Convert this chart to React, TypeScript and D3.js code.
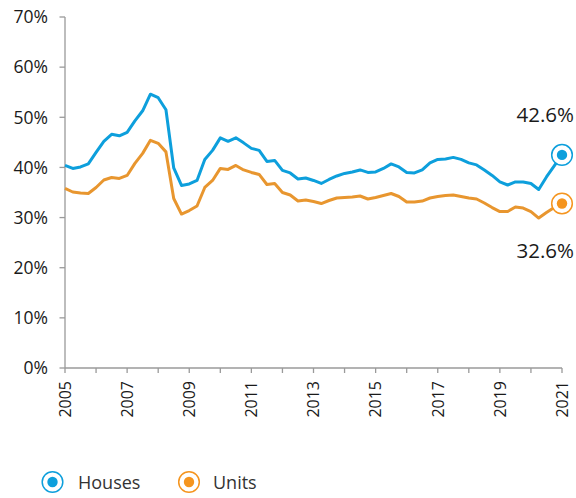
import React from "react";
import * as d3 from "d3";

const startYear = 2005;
const houses = [40.4, 39.8, 40.1, 40.7, 43.0, 45.2, 46.6, 46.3, 47.0, 49.3, 51.3, 54.6, 53.9, 51.5, 39.9, 36.4, 36.7, 37.4, 41.6, 43.4, 45.9, 45.2, 45.9, 44.9, 43.8, 43.4, 41.2, 41.4, 39.4, 38.9, 37.7, 37.9, 37.4, 36.8, 37.6, 38.3, 38.8, 39.1, 39.5, 39.0, 39.1, 39.8, 40.7, 40.1, 39.0, 38.9, 39.5, 40.9, 41.6, 41.7, 42.0, 41.6, 40.9, 40.5, 39.5, 38.4, 37.1, 36.5, 37.1, 37.1, 36.8, 35.6, 38.1, 40.3, 42.5];
const units = [35.8, 35.1, 34.9, 34.8, 36.0, 37.5, 38.0, 37.8, 38.4, 40.8, 42.8, 45.4, 44.8, 43.1, 33.8, 30.7, 31.4, 32.3, 36.0, 37.4, 39.8, 39.6, 40.4, 39.5, 39.0, 38.6, 36.6, 36.8, 35.0, 34.5, 33.3, 33.5, 33.2, 32.8, 33.4, 33.9, 34.0, 34.1, 34.3, 33.7, 34.0, 34.4, 34.8, 34.2, 33.1, 33.1, 33.3, 33.9, 34.2, 34.4, 34.5, 34.2, 33.9, 33.7, 32.9, 32.0, 31.2, 31.2, 32.1, 31.9, 31.2, 29.9, 31.0, 32.0, 32.8];
const yTicks = [0, 10, 20, 30, 40, 50, 60, 70];
const yearTicks = d3.range(2005, 2022);
const yearLabels = [2005, 2007, 2009, 2011, 2013, 2015, 2017, 2019, 2021];
const endLabels = { houses: "42.6%", units: "32.6%" };
const seriesNames = ["Houses", "Units"];

const BLUE = "#0d9fdc";
const ORANGE = "#e8962f";
const ORANGE_DOT = "#f5951f";
const AXIS = "#9a9a9a";
const FONT = "'Open Sans', 'Noto Sans', sans-serif";

export default function App() {
  const W = 576, H = 498;
  const x = d3.scaleLinear().domain([2005, 2021]).range([65, 562]);
  const y = d3.scaleLinear().domain([0, 70]).range([368, 17]);
  const t = (i: number) => startYear + i * 0.25;
  const line = d3.line<number>().x((_, i) => x(t(i))).y((d) => y(d));
  const lastH = houses[houses.length - 1];
  const lastU = units[units.length - 1];
  const lastX = x(t(houses.length - 1));

  const marker = (cx: number, cy: number, color: string, dot: string) => (
    <g>
      <circle cx={cx} cy={cy} r={10.3} fill="#fff" stroke={color} strokeWidth={1.5} />
      <circle cx={cx} cy={cy} r={5.2} fill={dot} />
    </g>
  );

  return (
    <svg width={W} height={H} style={{ position: "absolute", left: 0, top: 0, background: "#fff" }} fontFamily={FONT}>
      {/* y axis */}
      <line x1={65} x2={65} y1={y(70)} y2={y(0)} stroke={AXIS} strokeWidth={1.3} />
      {yTicks.map((v) => (
        <g key={v}>
          <line x1={59.5} x2={65} y1={y(v)} y2={y(v)} stroke={AXIS} strokeWidth={1.3} />
          <text x={48} y={y(v)} dy="0.36em" textAnchor="end" fontSize={17.5} fill="#1a1a1a">{v}%</text>
        </g>
      ))}
      {/* x axis */}
      <line x1={65} x2={562} y1={368} y2={368} stroke={AXIS} strokeWidth={1.3} />
      {yearTicks.map((yr) => (
        <line key={yr} x1={x(yr)} x2={x(yr)} y1={368} y2={373} stroke={AXIS} strokeWidth={1.3} />
      ))}
      {yearLabels.map((yr) => (
        <text key={yr} transform={`translate(${x(yr)},381) rotate(-90)`} dy="0.36em" textAnchor="end" fontSize={16} fill="#1a1a1a">{yr}</text>
      ))}
      {/* lines */}
      <path d={line(units) || ""} fill="none" stroke={ORANGE} strokeWidth={3} strokeLinejoin="round" />
      <path d={line(houses) || ""} fill="none" stroke={BLUE} strokeWidth={3} strokeLinejoin="round" />
      {marker(lastX, y(lastH), BLUE, BLUE)}
      {marker(lastX, y(lastU), ORANGE_DOT, ORANGE_DOT)}
      <text x={574} y={121.5} textAnchor="end" fontSize={20.5} fill="#1a1a1a">{endLabels.houses}</text>
      <text x={574} y={258} textAnchor="end" fontSize={20.5} fill="#1a1a1a">{endLabels.units}</text>
      {/* legend */}
      {marker(52.5, 482, BLUE, BLUE)}
      <text x={78} y={489} fontSize={18} fill="#333">{seriesNames[0]}</text>
      {marker(189, 482, ORANGE_DOT, ORANGE_DOT)}
      <text x={213} y={489} fontSize={18} fill="#333">{seriesNames[1]}</text>
    </svg>
  );
}
